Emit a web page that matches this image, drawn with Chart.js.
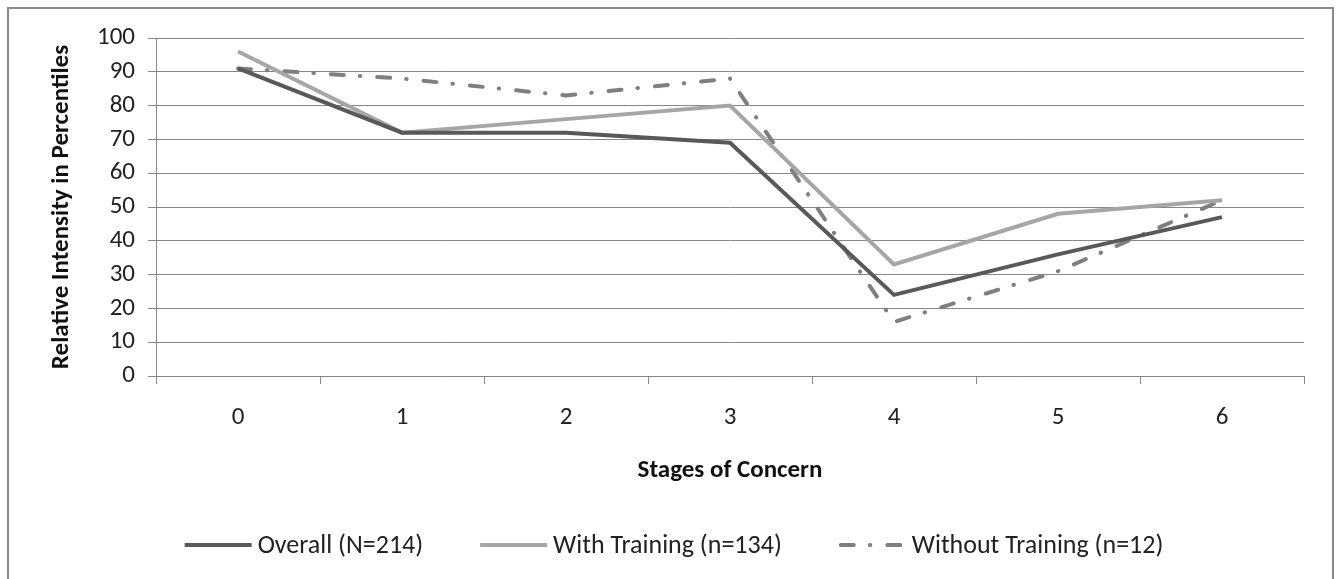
<!DOCTYPE html>
<html>
<head>
<meta charset="utf-8">
<title>Stages of Concern</title>
<script src="https://cdn.jsdelivr.net/npm/chart.js@4.4.1/dist/chart.umd.min.js"></script>
<style>
  html, body { margin: 0; padding: 0; background: #ffffff; overflow: hidden; }
  #wrap { position: relative; width: 1342px; height: 579px; }
  #frame {
    position: absolute; left: 7px; top: 7px; width: 1327px; height: 700px;
    box-sizing: border-box; border: 2px solid #8a8a8a; pointer-events: none;
  }
  canvas { position: absolute; left: 0; top: 0; }
</style>
</head>
<body>
<div id="wrap">
  <canvas id="chart" width="1342" height="579"></canvas>
  <div id="frame"></div>
</div>
<script>
// Stages of Concern profile: relative intensity (percentiles) per stage
const stages = ['0', '1', '2', '3', '4', '5', '6'];
const overall = [91, 72, 72, 69, 24, 36, 47];
const withTraining = [96, 72, 76, 80, 33, 48, 52];
const withoutTraining = [91, 88, 83, 88, 16, 31, 52];
const seriesNames = ['Overall (N=214)', 'With Training (n=134)', 'Without Training (n=12)'];
const yTicks = [0, 10, 20, 30, 40, 50, 60, 70, 80, 90, 100];

const FONT = 'Carlito, Lato, "Liberation Sans", sans-serif';
const GRID = '#878787';

// Legend drawn on the canvas below the axis title
const bottomLegend = {
  id: 'bottomLegend',
  afterDraw(chart) {
    const ctx = chart.ctx;
    const lineLen = 67, textGap = 6, itemGap = 57, y = 545;
    ctx.save();
    ctx.font = '26px ' + FONT;
    const sets = chart.data.datasets;
    const widths = sets.map(d => lineLen + textGap + ctx.measureText(d.label).width);
    const total = widths.reduce((a, b) => a + b, 0) + itemGap * (sets.length - 1);
    let x = 674 - total / 2;
    sets.forEach((d, i) => {
      ctx.beginPath();
      ctx.strokeStyle = d.borderColor;
      ctx.lineWidth = d.borderWidth;
      ctx.lineCap = d.borderCapStyle || 'butt';
      ctx.setLineDash(d.borderDash || []);
      const inset = d.borderCapStyle === 'round' ? 2 : 0;
      ctx.moveTo(x + inset, y);
      ctx.lineTo(x + lineLen - inset, y);
      ctx.stroke();
      ctx.setLineDash([]);
      ctx.fillStyle = '#222222';
      ctx.textAlign = 'left';
      ctx.textBaseline = 'middle';
      ctx.fillText(d.label, x + lineLen + textGap, y + 1);
      x += widths[i] + itemGap;
    });
    ctx.restore();
  }
};

new Chart(document.getElementById('chart'), {
  type: 'line',
  data: {
    labels: stages,
    datasets: [
      {
        label: seriesNames[0], data: overall,
        borderColor: '#595959', backgroundColor: '#595959',
        borderWidth: 4, pointRadius: 0, tension: 0
      },
      {
        label: seriesNames[1], data: withTraining,
        borderColor: '#a6a6a6', backgroundColor: '#a6a6a6',
        borderWidth: 4, pointRadius: 0, tension: 0
      },
      {
        label: seriesNames[2], data: withoutTraining,
        borderColor: '#7f7f7f', backgroundColor: '#7f7f7f',
        borderWidth: 4, pointRadius: 0, tension: 0,
        borderCapStyle: 'round', borderDash: [13, 16, 0.5, 17]
      }
    ]
  },
  options: {
    responsive: false,
    animation: false,
    layout: { padding: { left: 0, top: 38, right: 38, bottom: 90 } },
    plugins: {
      legend: { display: false },
      tooltip: { enabled: false }
    },
    scales: {
      x: {
        offset: true,
        grid: { display: true, drawOnChartArea: false, drawTicks: true, tickLength: 8, color: GRID, offset: true },
        border: { display: true, color: GRID, width: 1 },
        ticks: { font: { family: FONT, size: 25 }, color: '#222222', padding: 19, maxRotation: 0 },
        title: {
          display: true, text: 'Stages of Concern',
          font: { family: FONT, size: 25, weight: 'bold' }, color: '#111111',
          padding: { top: 0, bottom: 3 }
        },
        afterFit(scale) { scale.height = 113; }
      },
      y: {
        min: 0, max: 100,
        afterBuildTicks(scale) { scale.ticks = yTicks.map(v => ({ value: v })); },
        grid: { color: GRID, lineWidth: 1, tickLength: 8 },
        border: { display: true, color: GRID, width: 1 },
        ticks: { font: { family: FONT, size: 25 }, color: '#222222', padding: 13 },
        title: {
          display: true, text: 'Relative Intensity in Percentiles',
          font: { family: FONT, size: 25, weight: 'bold' }, color: '#111111',
          padding: { top: 47, bottom: 0 }
        },
        afterFit(scale) { scale.width = 156; }
      }
    }
  },
  plugins: [bottomLegend]
});
</script>
</body>
</html>
